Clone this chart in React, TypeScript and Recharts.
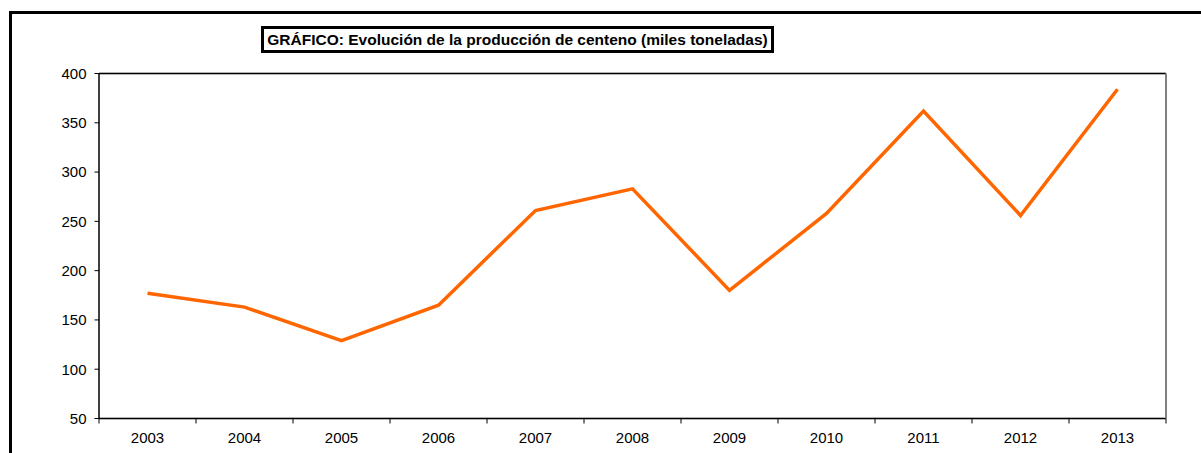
import { LineChart, Line, XAxis, YAxis, CartesianGrid, ReferenceLine } from "recharts";

const years = ["2003", "2004", "2005", "2006", "2007", "2008", "2009", "2010", "2011", "2012", "2013"];
const produccion = [177, 163, 129, 165, 261, 283, 180, 258, 362, 256, 384];
const yTicks = [50, 100, 150, 200, 250, 300, 350, 400];

const data = years.map((year, i) => ({ year, value: produccion[i] }));

const CHART_W = 1201;
const CHART_H = 453;
const Y_AXIS_W = 99;
const RIGHT_W = 35;
const band = (CHART_W - Y_AXIS_W - RIGHT_W) / years.length;
const font = '"Liberation Sans", Arial, sans-serif';

const YearTick = (props: any) => {
  const { x, y, payload, index } = props;
  const last = index === years.length - 1;
  return (
    <g>
      <line x1={x - band / 2} x2={x - band / 2} y1={y} y2={y + 5} stroke="#000" />
      {last && <line x1={x + band / 2} x2={x + band / 2} y1={y} y2={y + 5} stroke="#000" />}
      <text x={x} y={y + 24} textAnchor="middle" fontSize={15} fill="#000" fontFamily={font}>
        {payload.value}
      </text>
    </g>
  );
};

export default function App() {
  return (
    <div
      style={{
        position: "absolute",
        left: 0,
        top: 0,
        width: CHART_W,
        height: CHART_H,
        overflow: "hidden",
        background: "#fff",
        fontFamily: font,
      }}
    >
      <div
        style={{
          position: "absolute",
          left: 9,
          top: 10.5,
          width: 1400,
          height: 700,
          border: "3px solid #000",
        }}
      />
      <div
        style={{
          position: "absolute",
          left: 261,
          top: 25.5,
          width: 507,
          height: 21,
          border: "3px solid #000",
          fontWeight: "bold",
          fontSize: 15.5,
          lineHeight: "21px",
          textAlign: "center",
          whiteSpace: "nowrap",
          background: "#fff",
          zIndex: 2,
        }}
      >
        GRÁFICO: Evolución de la producción de centeno (miles toneladas)
      </div>
      <div style={{ position: "absolute", left: 0, top: 0 }}>
        <LineChart
          width={CHART_W}
          height={CHART_H}
          data={data}
          margin={{ top: 73.5, right: 0, bottom: 0, left: 0 }}
        >
          <CartesianGrid vertical={false} stroke="#bdbdbd" strokeWidth={1.5} />
          <XAxis
            dataKey="year"
            scale="band"
            height={34.5}
            tickLine={false}
            tickSize={0}
            tickMargin={0}
            axisLine={{ stroke: "#000", strokeWidth: 1.5 }}
            tick={<YearTick />}
            interval={0}
          />
          <YAxis
            yAxisId="left"
            width={Y_AXIS_W}
            domain={[50, 400]}
            ticks={yTicks}
            tickSize={4.5}
            tickMargin={8}
            axisLine={{ stroke: "#000", strokeWidth: 1.5 }}
            tickLine={{ stroke: "#000" }}
            tick={{ fontSize: 15, fill: "#000", fontFamily: font }}
            allowDataOverflow
          />
          <YAxis
            yAxisId="right"
            orientation="right"
            width={RIGHT_W}
            domain={[50, 400]}
            tick={false}
            tickLine={false}
            axisLine={{ stroke: "#808080", strokeWidth: 2 }}
          />
          <ReferenceLine yAxisId="left" y={400} stroke="#000" strokeWidth={1.5} />
          <Line
            yAxisId="left"
            type="linear"
            dataKey="value"
            stroke="#FF6600"
            strokeWidth={3.5}
            dot={false}
            activeDot={false}
            isAnimationActive={false}
          />
        </LineChart>
      </div>
    </div>
  );
}
